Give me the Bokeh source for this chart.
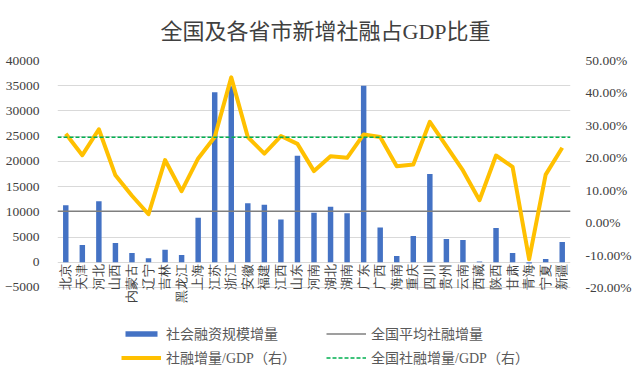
import math
from bokeh.plotting import figure
from bokeh.models import (ColumnDataSource, Range1d, LinearAxis, FixedTicker, NumeralTickFormatter,
                          Legend, LegendItem, LabelSet, FactorRange)
from bokeh.embed import file_html
from bokeh.resources import INLINE

provinces = ["北京", "天津", "河北", "山西", "内蒙古", "辽宁", "吉林", "黑龙江", "上海", "江苏",
             "浙江", "安徽", "福建", "江西", "山东", "河南", "湖北", "湖南", "广东", "广西",
             "海南", "重庆", "四川", "贵州", "云南", "西藏", "陕西", "甘肃", "青海", "宁夏", "新疆"]
tsf_increase = [11300, 3400, 12100, 3800, 1850, 800, 2500, 1450, 8800, 33700,
                34900, 11700, 11400, 8500, 21100, 9800, 11000, 9700, 35000, 6900,
                1250, 5200, 17500, 4600, 4400, 150, 6800, 1850, -250, 650, 4000]
tsf_gdp_ratio = [0.274, 0.208, 0.288, 0.146, 0.083, 0.026, 0.193, 0.097, 0.198, 0.264,
                 0.448, 0.264, 0.213, 0.267, 0.243, 0.159, 0.205, 0.200, 0.272, 0.264,
                 0.174, 0.179, 0.311, 0.236, 0.161, 0.069, 0.207, 0.172, -0.113, 0.148, 0.231]
national_avg_increase = 10100
national_ratio = 0.263

left_ticks = [-5000, 0, 5000, 10000, 15000, 20000, 25000, 30000, 35000, 40000]
right_ticks = [-0.2, -0.1, 0.0, 0.1, 0.2, 0.3, 0.4, 0.5]

legend_labels = ["社会融资规模增量", "全国平均社融增量", "社融增量/GDP（右）", "全国社融增量/GDP（右）"]
title_text = "全国及各省市新增社融占GDP比重"

SERIF = "'Liberation Serif', 'Times New Roman', 'DejaVu Serif', 'Noto Sans CJK SC', serif"
CJK = "'Noto Sans CJK SC', sans-serif"

BAR_COLOR = "#4472C4"
AVG_COLOR = "#7F7F7F"
RATIO_COLOR = "#FFC000"
NAT_COLOR = "#00B050"
TEXT_COLOR = "#404040"

# The plotting frame runs down to the bottom of the chart so that the hanging
# category names and the legend are drawn inside it; only the ticks below are labelled.
LEFT_BOTTOM = -21459
RIGHT_BOTTOM = -0.4559

p = figure(width=640, height=378, output_backend="svg", toolbar_location=None,
           x_range=FactorRange(*provinces, range_padding=0),
           y_range=Range1d(LEFT_BOTTOM, left_ticks[-1]),
           min_border_left=57, min_border_right=70, min_border_top=60, min_border_bottom=8)
p.extra_y_ranges = {"pct": Range1d(RIGHT_BOTTOM, right_ticks[-1])}
p.outline_line_color = None
p.background_fill_color = "white"
p.border_fill_color = "white"

p.title.text = title_text
p.title.align = "left"
p.title.offset = 103
p.title.vertical_align = "top"
p.title.standoff = 30
p.title.text_font = SERIF
p.title.text_font_size = "22px"
p.title.text_font_style = "normal"
p.title.text_color = TEXT_COLOR

src = ColumnDataSource(dict(prov=provinces, val=tsf_increase, ratio=tsf_gdp_ratio,
                            zero=[0] * len(provinces)))

bars = p.vbar(x="prov", top="val", bottom=0, width=0.33, source=src,
              fill_color=BAR_COLOR, line_color=None)
avg = p.line(x=[(provinces[0], -0.5), (provinces[-1], 0.5)],
             y=[national_avg_increase, national_avg_increase],
             line_color=AVG_COLOR, line_width=1.5)
ratio_line = p.line(x="prov", y="ratio", source=src, y_range_name="pct",
                    line_color=RATIO_COLOR, line_width=4, line_join="round")
nat = p.line(x=[(provinces[0], -0.5), (provinces[-1], 0.5)],
             y=[national_ratio, national_ratio], y_range_name="pct",
             line_color=NAT_COLOR, line_width=1.5, line_dash="4 2")

# axes
p.xaxis.visible = False
p.xgrid.visible = False
p.ygrid.ticker = FixedTicker(ticks=left_ticks)
p.ygrid.grid_line_color = "#D9D9D9"
p.ygrid.grid_line_width = 1

ya = p.yaxis[0]
ya.ticker = FixedTicker(ticks=left_ticks)
ya.axis_line_color = None
ya.major_tick_line_color = None
ya.minor_tick_line_color = None
ya.major_label_standoff = 12
ya.major_label_text_font = SERIF
ya.major_label_text_font_size = "13.5px"
ya.major_label_text_color = TEXT_COLOR

ra = LinearAxis(y_range_name="pct", ticker=FixedTicker(ticks=right_ticks),
                formatter=NumeralTickFormatter(format="0.00%"))
ra.axis_line_color = None
ra.major_tick_line_color = None
ra.minor_tick_line_color = None
ra.major_label_standoff = 9
ra.major_label_text_font = SERIF
ra.major_label_text_font_size = "13.5px"
ra.major_label_text_color = TEXT_COLOR
p.add_layout(ra, "right")

# category labels, rotated, hanging below the zero line
cat_labels = LabelSet(x="prov", y="zero", text="prov", source=src, angle=math.pi / 2,
                      text_align="right", text_baseline="middle", y_offset=-2,
                      text_font=CJK, text_font_size="12.5px", text_color=TEXT_COLOR)
p.add_layout(cat_labels)

# legend: 2 columns, filled column by column
legend = Legend(items=[
    LegendItem(label=legend_labels[0], renderers=[bars]),
    LegendItem(label=legend_labels[2], renderers=[ratio_line]),
    LegendItem(label=legend_labels[1], renderers=[avg]),
    LegendItem(label=legend_labels[3], renderers=[nat]),
], ncols=2, location=(64, 3))
legend.border_line_color = None
legend.background_fill_alpha = 0
legend.padding = 0
legend.margin = 0
legend.spacing = 4
legend.glyph_width = 40
legend.glyph_height = 7
legend.label_standoff = 5
legend.label_width = 156
legend.label_text_font = SERIF
legend.label_text_font_size = "14px"
legend.label_text_color = "#595959"
p.add_layout(legend, "center")

open("out.html", "w").write(file_html(p, INLINE))
